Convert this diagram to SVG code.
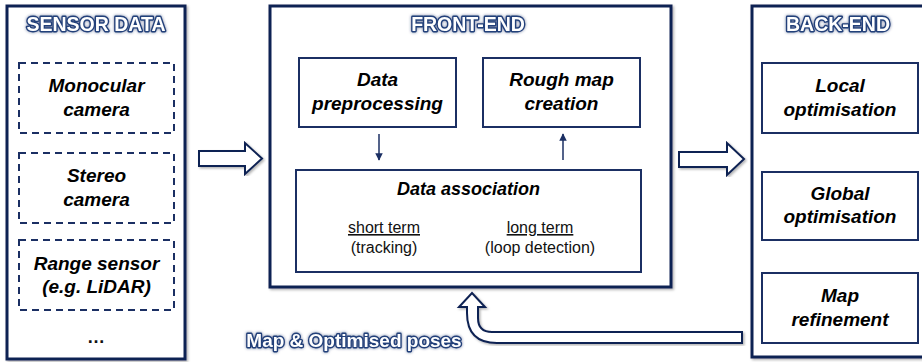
<svg xmlns="http://www.w3.org/2000/svg" width="922" height="362" viewBox="0 0 922 362">
  <defs>
    <filter id="shadow" x="-5%" y="-5%" width="110%" height="110%">
      <feDropShadow dx="1.5" dy="1.5" stdDeviation="1" flood-color="#000" flood-opacity="0.3"/>
    </filter>
    <filter id="glow" x="-10%" y="-30%" width="120%" height="160%">
      <feDropShadow dx="0" dy="0" stdDeviation="1.5" flood-color="#1b2f63" flood-opacity="0.6"/>
    </filter>
    <marker id="tip" viewBox="0 0 10 10" refX="9" refY="5" markerWidth="5" markerHeight="5" orient="auto">
      <path d="M0,0 L10,5 L0,10 Z" fill="#1b2f63"/>
    </marker>
  </defs>
  <style>
    .panel { fill: #fff; stroke: #0f2152; stroke-width: 3; }
    .box { fill: #fff; stroke: #1b2f63; stroke-width: 2; }
    .dash { fill: #fff; stroke: #1b2f63; stroke-width: 2; stroke-dasharray: 7 5; }
    .title { font-family: "Liberation Sans", Arial, sans-serif; font-weight: bold; font-size: 19.5px; fill: #fff; stroke: #22407a; stroke-width: 2.8; stroke-linejoin: round; paint-order: stroke; text-anchor: middle; }
    .lbl { font-family: "Liberation Sans", Arial, sans-serif; font-weight: bold; font-style: italic; font-size: 19px; fill: #000; text-anchor: middle; }
    .sub { font-family: "Liberation Sans", Arial, sans-serif; font-size: 16px; fill: #111; text-anchor: middle; }
    .thin { stroke: #1b2f63; stroke-width: 1.5; fill: none; }
    .block { fill: #fff; stroke: #0f2152; stroke-width: 2; stroke-linejoin: miter; }
  </style>

  <!-- Sensor data column -->
  <g id="sensor-data">
    <rect class="panel" x="7" y="6" width="178" height="353" filter="url(#shadow)"/>
    <text class="title" x="96" y="31" filter="url(#glow)">SENSOR DATA</text>
  </g>
  <g id="monocular-camera">
    <rect class="dash" x="19" y="63" width="155" height="70"/>
    <text class="lbl" x="96.5" y="92">Monocular</text>
    <text class="lbl" x="96.5" y="116">camera</text>
  </g>
  <g id="stereo-camera">
    <rect class="dash" x="19" y="153" width="155" height="70"/>
    <text class="lbl" x="96.5" y="182">Stereo</text>
    <text class="lbl" x="96.5" y="206">camera</text>
  </g>
  <g id="range-sensor">
    <rect class="dash" x="19" y="240" width="155" height="70"/>
    <text class="lbl" x="96.5" y="270">Range sensor</text>
    <text class="lbl" x="96.5" y="293">(e.g. LiDAR)</text>
  </g>
  <g id="more-sensors">
    <text class="sub" x="96" y="343" style="font-weight:bold;font-size:18px">…</text>
  </g>

  <!-- Front-end column -->
  <g id="front-end">
    <rect class="panel" x="270" y="6" width="401" height="281" filter="url(#shadow)"/>
    <text class="title" x="468" y="31" filter="url(#glow)">FRONT-END</text>
  </g>
  <g id="data-preprocessing">
    <rect class="box" x="299" y="58" width="157" height="69"/>
    <text class="lbl" x="377.5" y="86">Data</text>
    <text class="lbl" x="377.5" y="110">preprocessing</text>
  </g>
  <g id="rough-map-creation">
    <rect class="box" x="483" y="58" width="157" height="69"/>
    <text class="lbl" x="561.5" y="86">Rough map</text>
    <text class="lbl" x="561.5" y="110">creation</text>
  </g>
  <g id="data-association">
    <rect class="box" x="296" y="170" width="345" height="102"/>
    <text class="lbl" x="468.5" y="195" style="font-size:18px">Data association</text>
    <text class="sub" x="384" y="233" text-decoration="underline">short term</text>
    <text class="sub" x="384" y="253">(tracking)</text>
    <text class="sub" x="540" y="233" text-decoration="underline">long term</text>
    <text class="sub" x="540" y="253">(loop detection)</text>
  </g>

  <!-- Back-end column -->
  <g id="back-end">
    <rect class="panel" x="752" y="6" width="180" height="351" filter="url(#shadow)"/>
    <text class="title" x="838" y="31" filter="url(#glow)">BACK-END</text>
  </g>
  <g id="local-optimisation">
    <rect class="box" x="762" y="63" width="156" height="70"/>
    <text class="lbl" x="840" y="92">Local</text>
    <text class="lbl" x="840" y="116">optimisation</text>
  </g>
  <g id="global-optimisation">
    <rect class="box" x="762" y="172" width="156" height="68"/>
    <text class="lbl" x="840" y="200">Global</text>
    <text class="lbl" x="840" y="223">optimisation</text>
  </g>
  <g id="map-refinement">
    <rect class="box" x="762" y="273" width="156" height="70"/>
    <text class="lbl" x="840" y="302">Map</text>
    <text class="lbl" x="840" y="326">refinement</text>
  </g>

  <!-- Connectors -->
  <g id="connectors">
    <line class="thin" x1="379" y1="134" x2="379" y2="160" marker-end="url(#tip)"/>
    <line class="thin" x1="563" y1="160" x2="563" y2="134" marker-end="url(#tip)"/>
    <path class="block" filter="url(#shadow)" d="M199,151 H245 V143 L262,158.5 L245,174 V166 H199 Z"/>
    <path class="block" filter="url(#shadow)" d="M679,152 H727 V143 L744,159 L727,175 V167 H679 Z"/>
    <path class="block" filter="url(#shadow)" d="M742,332 H492 Q478,332 478,318 V307 H485 L472,293 L459,307 H467 V313 Q467,343 497,343 H742 Z"/>
    <text class="title" x="354" y="347" style="font-size:19px" filter="url(#glow)">Map &amp; Optimised poses</text>
  </g>
</svg>
